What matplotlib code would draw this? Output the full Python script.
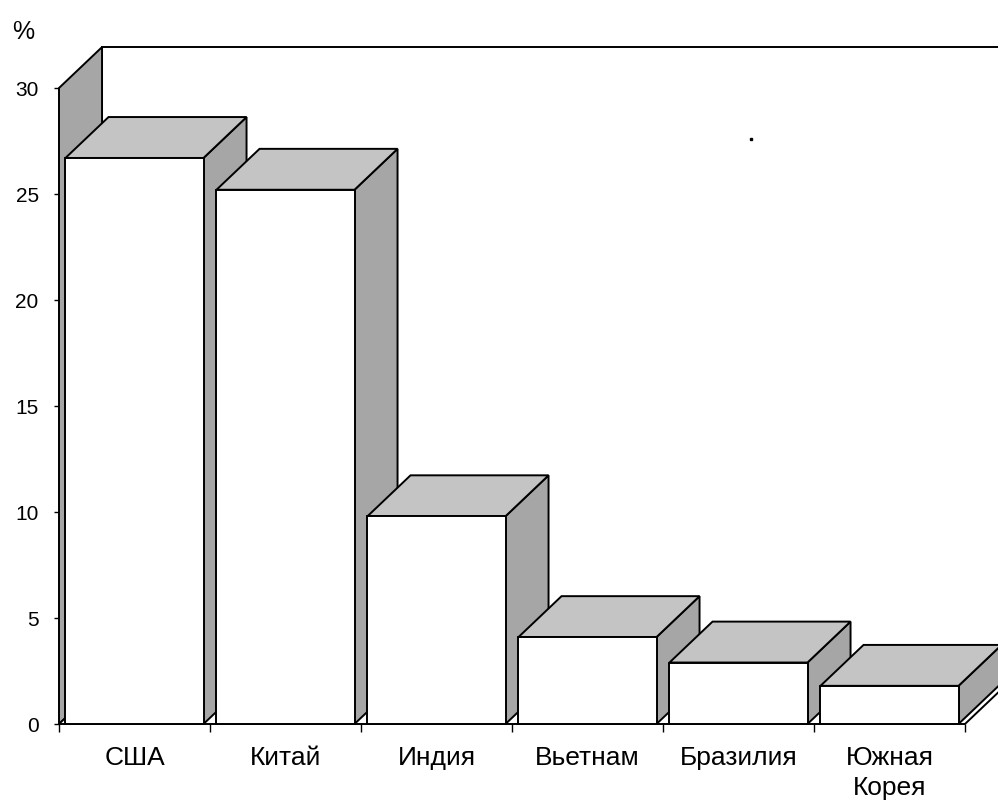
import matplotlib
matplotlib.use("Agg")
import matplotlib.pyplot as plt
from matplotlib.patches import Polygon

# данные
countries = ["США", "Китай", "Индия", "Вьетнам", "Бразилия", "Южная\nКорея"]
shares = [26.7, 25.2, 9.8, 4.1, 2.9, 1.8]
y_ticks = [0, 5, 10, 15, 20, 25, 30]
stray_dot = (4.58, 27.6)

# псевдо-3D параметры (в единицах осей)
DX = 0.285      # глубина по горизонтали (доля категории)
DY = 1.93       # глубина по вертикали (в %)
BAR_W = 0.914
FRONT = "#ffffff"
TOP = "#c4c4c4"
SIDE = "#a6a6a6"
LW = 1.4

plt.rcParams["font.family"] = ["Liberation Sans", "DejaVu Sans"]

fig = plt.figure(figsize=(9.98, 8), dpi=100)
ax = fig.add_axes([59 / 998, 76 / 800, 906 / 998, 636 / 800])
n = len(countries)
ymax = y_ticks[-1]
ax.set_xlim(0, n)
ax.set_ylim(0, ymax)
for s in ax.spines.values():
    s.set_visible(False)
ax.patch.set_visible(False)


def poly(pts, fc, z):
    ax.add_patch(Polygon(pts, closed=True, facecolor=fc, edgecolor="black",
                         lw=LW, joinstyle="miter", clip_on=False, zorder=z))


# стенки и пол
poly([(DX, DY), (n + DX, DY), (n + DX, ymax + DY), (DX, ymax + DY)], "white", 1)
poly([(0, 0), (DX, DY), (DX, ymax + DY), (0, ymax)], SIDE, 2)
poly([(0, 0), (n, 0), (n + DX, DY), (DX, DY)], "white", 2)

# столбцы
for i, v in enumerate(shares):
    x0 = i + (1 - BAR_W) / 2
    x1 = x0 + BAR_W
    z = 3 + i
    poly([(x1, 0), (x1 + DX, DY), (x1 + DX, v + DY), (x1, v)], SIDE, z)
    poly([(x0, v), (x1, v), (x1 + DX, v + DY), (x0 + DX, v + DY)], TOP, z)
    poly([(x0, 0), (x1, 0), (x1, v), (x0, v)], FRONT, z)

ax.plot([stray_dot[0]], [stray_dot[1]], "s", ms=1.6, color="black", zorder=20)

# оси
ax.set_yticks(y_ticks)
ax.set_yticklabels([str(t) for t in y_ticks], fontsize=15)
ax.tick_params(axis="y", direction="out", length=3.6, width=1, pad=11)

ax.set_xticks(range(n + 1))
ax.set_xticklabels([])
ax.tick_params(axis="x", which="major", direction="out", length=6, width=1)
ax.set_xticks([i + 0.5 for i in range(n)], minor=True)
ax.set_xticklabels(countries, minor=True, fontsize=19, linespacing=1.3)
ax.tick_params(axis="x", which="minor", length=0, pad=16)

fig.text(12 / 998, 1 - 39 / 800, "%", fontsize=18, va="baseline")

fig.savefig("out.png", dpi=100, facecolor="white")
